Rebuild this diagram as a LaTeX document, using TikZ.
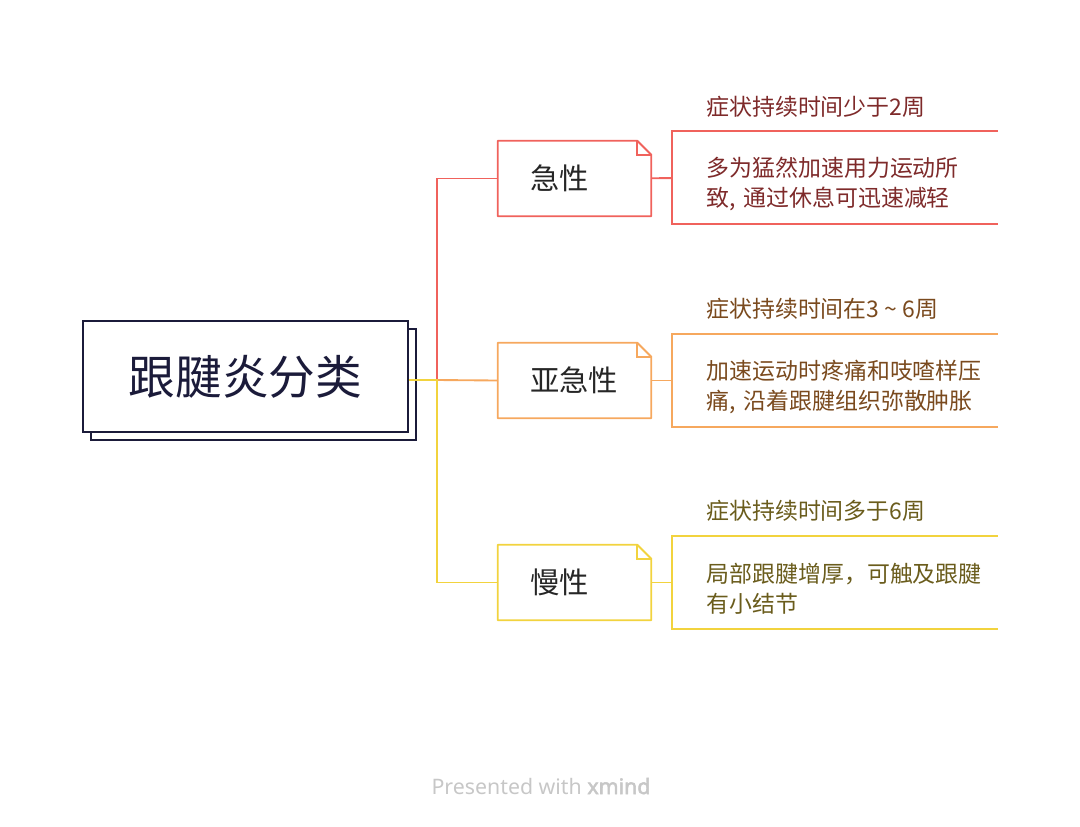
\documentclass[tikz,border=0pt]{standalone}
\usepackage{fontspec}
\setmainfont{Noto Sans}
\newfontfamily\cjk{Noto Sans CJK SC}
\newfontfamily\markfont{Noto Sans}[FakeBold=2.5]
\usepackage{tikz}
\usetikzlibrary{positioning,shadows,calc}

\definecolor{navy}{HTML}{1B1B3A}
\definecolor{cred}{HTML}{F0625C}
\definecolor{corange}{HTML}{F6A85E}
\definecolor{cyellow}{HTML}{F2D33E}
\definecolor{tred}{HTML}{7E2A2A}
\definecolor{torange}{HTML}{7A4A1E}
\definecolor{tyellow}{HTML}{6A5C1C}

\begin{document}
\begin{tikzpicture}[
  x=0.75pt, y=-0.75pt,
  % --- root topic ---
  roottopic/.style={
    draw=navy, fill=white, line width=1.4pt,
    minimum width=243.75pt, minimum height=83.25pt,
    font=\cjk\fontsize{35}{40}\selectfont, text=navy,
    copy shadow={shadow xshift=6pt, shadow yshift=-6pt}
  },
  % --- main branches (outline drawn afterwards) ---
  branch/.style={
    fill=white, inner xsep=24pt, text width=66.75pt, align=left,
    minimum height=56.25pt, font=\cjk\fontsize{22}{24}\selectfont,
    text=black!85
  },
  % --- details ---
  notebox/.style={inner sep=0pt, minimum width=243.75pt, minimum height=69.75pt},
  note/.style={
    anchor=west, inner sep=0pt, text width=215pt, align=left,
    font=\cjk\fontsize{17.2}{22.5}\selectfont
  },
  head/.style={anchor=west, inner sep=0pt, font=\cjk\fontsize{17.2}{20}\selectfont},
  link/.style={line width=1.4pt},
  foot/.style={font=\fontsize{16}{18}\selectfont, text=black!22},
]

% ===================== ROOT =====================

\useasboundingbox (0,0) rectangle (1080,826);

\node[roottopic] (root) at (245.5,376.5) {跟腱炎分类};

\coordinate (jn) at (437,380);

% ===================== BRANCHES =====================

\node[branch] (acute) at (574.5,178.5) {急性};
\node[branch] (subacute) at (574.5,380.5) {亚急性};
\node[branch] (chronic) at (574.5,582.5) {慢性};

\foreach \b/\c in {acute/cred, subacute/corange, chronic/cyellow} {
  \draw[\c, line width=1.4pt, line join=round]
    (\b.north west) -- ([xshift=-10.5pt]\b.north east)
    -- ([yshift=-10.5pt]\b.north east) -- (\b.south east)
    -- (\b.south west) -- cycle;
  \draw[\c, line width=1.2pt]
    ([xshift=-10.5pt]\b.north east) |- ([yshift=-10.5pt]\b.north east);
}

% ===================== DETAILS =====================

\node[notebox, right=15.75pt of acute, yshift=0.75pt] (acutebox) {};
\node[note, text=tred, xshift=25.5pt, yshift=-5pt] (acutenote) at (acutebox.west)
  {多为猛然加速用力运动所\\致, 通过休息可迅速减轻};
\node[head, text=tred] (acutehead) at (706,107) {症状持续时间少于2周};

\node[notebox, right=15.75pt of subacute] (subbox) {};
\node[note, text=torange, xshift=25.5pt, yshift=-5pt] (subnote) at (subbox.west)
  {加速运动时疼痛和吱喳样压\\痛, 沿着跟腱组织弥散肿胀};
\node[head, text=torange] (subhead) at (706,309) {症状持续时间在3 \textasciitilde{} 6周};

\node[notebox, right=15.75pt of chronic] (chronbox) {};
\node[note, text=tyellow, xshift=25.5pt, yshift=-5pt] (chronnote) at (chronbox.west)
  {局部跟腱增厚，可触及跟腱\\有小结节};
\node[head, text=tyellow] (chronhead) at (706,511) {症状持续时间多于6周};

\draw[cred, link] (acutebox.north east) -- (acutebox.north west)
  -- (acutebox.south west) -- (acutebox.south east);
\draw[corange, link] (subbox.north east) -- (subbox.north west)
  -- (subbox.south west) -- (subbox.south east);
\draw[cyellow, link] (chronbox.north east) -- (chronbox.north west)
  -- (chronbox.south west) -- (chronbox.south east);

% ===================== CONNECTORS =====================

\draw[cred, link] (jn) |- (acute.west);
\draw[corange, link] (jn) -- (subacute.west);
\draw[cyellow, link] (jn -| root.east) -- (jn) |- (chronic.west);

\draw[cred, link] (acute) -- (acutebox);
\draw[corange, link] (subacute) -- (subbox);
\draw[cyellow, link] (chronic) -- (chronbox);

% footer
\node[foot] (credit) at (541,786) {Presented with {\markfont xmind}};

\end{tikzpicture}
\end{document}
